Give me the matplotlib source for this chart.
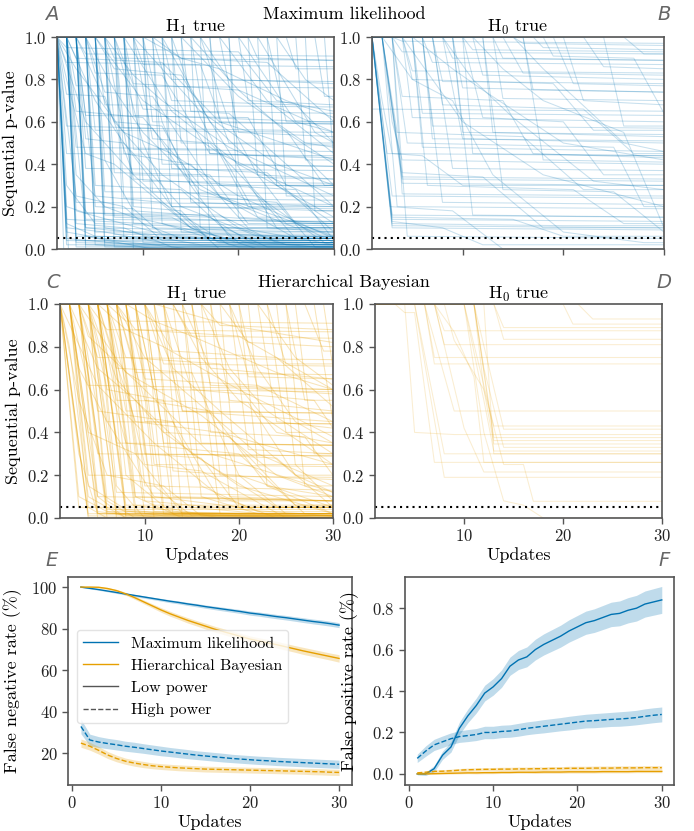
import matplotlib
matplotlib.use("Agg")
import matplotlib.pyplot as plt

plt.rcParams['font.family'] = ['cmr10', 'DejaVu Serif']
plt.rcParams['mathtext.fontset'] = 'cm'
plt.rcParams['axes.formatter.use_mathtext'] = True
plt.rcParams['axes.unicode_minus'] = False
plt.rcParams['font.size'] = 12
plt.rcParams['axes.labelsize'] = 13
plt.rcParams['axes.titlesize'] = 13
plt.rcParams['xtick.labelsize'] = 12
plt.rcParams['ytick.labelsize'] = 12

BLUE = '#0072B2'
ORANGE = '#E69F00'

# ---- sequential p-value traces: (update, p) knots, flat before/after ----
ml_h1_traces = [
    (1, 1, 2, 0.10, 6, 0.08, 12, 0.03), (1, 1, 2, 0.05, 9, 0.02), (1, 1, 1.7, 0.0),
    (1, 1, 2, 0.14, 10, 0.12, 14, 0.05), (1, 1, 2, 0.30, 5, 0.12, 20, 0.10, 25, 0.02),
    (1, 1, 2, 0.62, 3, 0.25, 8, 0.2, 12, 0.04), (1, 1, 2, 0.80, 4, 0.45, 7, 0.40, 15, 0.1),
    (1, 1, 2.2, 0.0), (1, 1, 2, 0.20, 4, 0.17, 18, 0.16, 24, 0.03),
    (2, 1, 3, 0.12, 8, 0.1, 13, 0.01), (2, 1, 3, 0.04), (2, 1, 3, 0.35, 6, 0.2, 9, 0.15, 22, 0.02),
    (2, 1, 3, 0.65, 10, 0.62, 16, 0.3, 26, 0.05), (2, 1, 4, 0.10, 30, 0.08),
    (3, 1, 4, 0.06, 11, 0.0), (3, 1, 4, 0.17, 17, 0.15, 21, 0.04), (3, 1, 5, 0.25, 12, 0.22, 19, 0.02),
    (3, 1, 4, 0.52, 8, 0.5, 13, 0.2, 30, 0.18), (4, 1, 5, 0.08), (4, 1, 5, 0.3, 14, 0.28, 20, 0.03),
    (4, 1, 6, 0.74, 11, 0.72, 18, 0.25, 30, 0.06), (5, 1, 6, 0.1, 16, 0.02),
    (5, 1, 6, 0.42, 9, 0.18, 28, 0.12), (5, 1, 7, 0.85, 14, 0.82, 24, 0.1),
    (6, 1, 7, 0.15, 24, 0.13), (6, 1, 7, 0.6, 12, 0.58, 16, 0.25, 24, 0.22, 28, 0.01),
    (6, 1, 9, 0.33, 21, 0.3, 26, 0.05), (7, 1, 8, 0.05), (7, 1, 8, 0.45, 15, 0.4, 21, 0.1),
    (7, 1, 10, 0.66, 19, 0.64, 30, 0.2), (8, 1, 9, 0.2, 14, 0.18, 17, 0.04),
    (8, 1, 9, 0.78, 20, 0.75, 30, 0.55), (9, 1, 10, 0.03), (9, 1, 11, 0.52, 17, 0.5, 25, 0.12),
    (10, 1, 11, 0.27, 22, 0.25, 29, 0.03), (10, 1, 14, 0.9, 23, 0.88, 30, 0.6),
    (11, 1, 12, 0.12, 20, 0.01), (11, 1, 13, 0.7, 26, 0.68, 30, 0.5),
    (12, 1, 13, 0.38, 23, 0.36, 30, 0.08), (13, 1, 14, 0.08, 25, 0.06), (13, 1, 16, 0.62, 29, 0.6),
    (14, 1, 15, 0.22, 30, 0.2), (15, 1, 17, 0.45, 27, 0.43, 30, 0.3), (16, 1, 17, 0.05),
    (16, 1, 19, 0.8, 30, 0.78), (17, 1, 18, 0.3, 26, 0.28, 30, 0.04), (18, 1, 20, 0.55, 30, 0.53),
    (19, 1, 20, 0.15, 30, 0.12), (20, 1, 21, 0.7, 30, 0.68), (21, 1, 22, 0.35, 30, 0.33),
    (22, 1, 23, 0.1, 30, 0.08), (23, 1, 25, 0.6), (24, 1, 25, 0.25), (25, 1, 26, 0.85),
    (26, 1, 27, 0.42), (27, 1, 28, 0.18), (28, 1, 29, 0.72), (29, 1, 30, 0.4),
    (3, 1, 7, 0.6, 12, 0.35, 20, 0.1, 30, 0.02), (5, 1, 10, 0.7, 18, 0.45, 30, 0.2),
    (8, 1, 13, 0.65, 20, 0.4, 30, 0.15), (12, 1, 17, 0.6, 24, 0.3, 30, 0.12),
    (15, 1, 20, 0.75, 25, 0.55, 30, 0.4), (18, 1, 23, 0.7, 30, 0.45),
    (2, 1, 5, 0.7, 8, 0.5, 14, 0.2, 22, 0.06), (4, 1, 7, 0.75, 10, 0.55, 16, 0.28, 26, 0.1),
    (6, 1, 9, 0.82, 12, 0.7, 19, 0.48, 30, 0.25), (9, 1, 12, 0.85, 16, 0.65, 24, 0.4, 30, 0.3),
    (14, 1, 17, 0.86, 20, 0.72, 27, 0.5, 30, 0.48), (20, 1, 23, 0.8, 26, 0.6, 30, 0.55),
    (1, 1, 4, 0.6, 9, 0.35, 15, 0.1, 22, 0.0), (1, 1, 3, 0.85, 8, 0.55, 13, 0.45, 20, 0.25, 30, 0.05),
    (7, 1, 10, 0.5, 13, 0.2, 18, 0.0), (10, 1, 12, 0.6, 15, 0.3, 19, 0.06),
    (16, 1, 19, 0.6, 22, 0.35, 26, 0.12, 30, 0.03),
    (22, 1, 28, 0.55, 30, 0.5), (11, 1, 14, 0.9, 18, 0.85, 25, 0.7, 30, 0.62), (24, 1, 27, 0.8, 30, 0.7),
    (2, 1, 3, 0.9, 12, 0.88, 18, 0.6, 30, 0.42), (1, 1, 2, 0.95, 20, 0.93, 24, 0.7, 30, 0.65),
    (1, 1, 2, 0.02), (2, 1, 3, 0.01), (3, 1, 4, 0.0), (4, 1, 5, 0.02, 14, 0.0),
    (5, 1, 6, 0.03, 20, 0.01), (6, 1, 7, 0.01), (8, 1, 9, 0.0), (1, 1, 2, 0.08, 7, 0.04, 15, 0.0),
    (2, 1, 3, 0.18, 12, 0.07, 28, 0.01), (3, 1, 4, 0.1, 20, 0.03),
    (1, 1, 2, 0.45, 30, 0.44), (1, 1, 2, 0.58, 11, 0.57, 15, 0.3), (1, 1, 2, 0.73, 6, 0.72, 9, 0.35, 30, 0.33),
    (1, 1, 2, 0.88, 16, 0.87, 19, 0.5), (2, 1, 3, 0.22, 30, 0.21), (2, 1, 3, 0.48, 18, 0.47, 22, 0.15),
    (2, 1, 3, 0.77, 30, 0.76), (2, 1, 3, 0.06, 30, 0.05), (3, 1, 4, 0.38, 30, 0.37),
    (3, 1, 4, 0.63, 21, 0.62, 25, 0.3), (3, 1, 4, 0.92, 30, 0.91), (3, 1, 4, 0.14, 30, 0.13),
    (4, 1, 5, 0.2, 9, 0.19, 12, 0.07), (4, 1, 5, 0.56, 30, 0.55), (4, 1, 5, 0.83, 12, 0.82, 17, 0.45, 30, 0.43),
    (5, 1, 6, 0.27, 30, 0.26), (5, 1, 6, 0.68, 30, 0.67), (5, 1, 6, 0.16, 13, 0.15, 18, 0.03),
    (6, 1, 7, 0.36, 17, 0.35, 21, 0.12), (6, 1, 7, 0.9, 30, 0.89), (6, 1, 7, 0.07, 30, 0.06),
    (7, 1, 8, 0.24, 30, 0.23), (7, 1, 8, 0.57, 25, 0.56, 29, 0.3), (8, 1, 9, 0.12, 30, 0.11),
    (8, 1, 9, 0.47, 30, 0.46), (8, 1, 9, 0.63, 16, 0.62, 21, 0.2), (9, 1, 10, 0.32, 30, 0.31),
    (9, 1, 10, 0.87, 30, 0.86), (10, 1, 11, 0.1, 19, 0.09, 23, 0.01), (10, 1, 11, 0.6, 30, 0.59),
    (11, 1, 12, 0.4, 30, 0.39), (12, 1, 13, 0.2, 30, 0.19), (12, 1, 13, 0.8, 30, 0.79),
    (13, 1, 14, 0.5, 30, 0.49), (14, 1, 15, 0.65, 30, 0.64), (15, 1, 16, 0.1, 30, 0.09),
    (17, 1, 18, 0.6, 30, 0.59), (19, 1, 20, 0.4, 30, 0.39), (21, 1, 22, 0.9, 30, 0.89),
    (23, 1, 24, 0.3, 30, 0.29), (1, 1, 2, 0.04, 30, 0.02), (2, 1, 3, 0.03, 30, 0.01),
    (3, 1, 4, 0.02, 30, 0.005), (4, 1, 5, 0.05, 30, 0.03), (5, 1, 6, 0.01, 30, 0.0),
    (1, 1, 2, 0.12, 5, 0.06, 30, 0.04),
]

ml_h0_traces = [
    (1, 1, 3, 0.13, 8, 0.1, 12, 0.02), (1, 1, 3, 0.12, 20, 0.11), (1, 1, 2.8, 0.2, 9, 0.18, 14, 0.0),
    (1, 1, 2, 0.7, 3, 0.45, 6, 0.44, 10, 0.3), (1, 0.66, 30, 0.65), (2, 1, 4, 0.33, 30, 0.32),
    (2, 1, 4, 0.36, 12, 0.34, 18, 0.1), (2, 1, 3, 0.6, 4, 0.42, 30, 0.4),
    (2, 1, 3.5, 0.55, 16, 0.53, 22, 0.28), (3, 1, 4, 0.26, 30, 0.25),
    (3, 1, 4.5, 0.5, 25, 0.48, 28, 0.2), (3, 1, 4, 0.72, 14, 0.7, 17, 0.45, 30, 0.43),
    (4, 1, 5, 0.62, 30, 0.6), (4, 1, 5, 0.8, 19, 0.78, 23, 0.56), (5, 1, 6, 0.48, 30, 0.46),
    (5, 1, 6.5, 0.3, 21, 0.28, 26, 0.12), (6, 1, 7, 0.58, 30, 0.57), (6, 1, 8, 0.22, 30, 0.21),
    (6, 1, 7, 0.88, 30, 0.87), (7, 1, 8, 0.68, 22, 0.66, 27, 0.45), (7, 1, 9, 0.38, 30, 0.37),
    (8, 1, 9, 0.9, 30, 0.89), (8, 1, 10, 0.52, 30, 0.5), (9, 1, 10, 0.76, 30, 0.74),
    (9, 1, 11, 0.16, 30, 0.15), (10, 1, 11, 0.94, 30, 0.93), (10, 1, 12, 0.62, 20, 0.6, 24, 0.35),
    (11, 1, 12, 0.82, 30, 0.8), (12, 1, 13, 0.55, 30, 0.53), (12, 1, 14, 0.28, 25, 0.27, 30, 0.08),
    (13, 1, 14, 0.71, 30, 0.7), (14, 1, 16, 0.83, 30, 0.82), (15, 1, 16, 0.97, 30, 0.96),
    (16, 1, 18, 0.42, 30, 0.41), (18, 1, 19, 0.91, 27, 0.9, 30, 0.64), (20, 1, 22, 0.7, 30, 0.68),
    (22, 1, 24, 0.86, 30, 0.85), (24, 1, 26, 0.58), (26, 1, 28, 0.92),
    (2, 1, 5, 0.8, 9, 0.7, 13, 0.35, 20, 0.08, 28, 0.03), (4, 1, 7, 0.8, 10, 0.6, 18, 0.35, 30, 0.2),
    (5, 1, 9, 0.85, 12, 0.75, 20, 0.5, 30, 0.42), (8, 1, 11, 0.8, 15, 0.62, 23, 0.32, 30, 0.28),
    (11, 1, 14, 0.85, 18, 0.7, 26, 0.55, 30, 0.1), (15, 1, 18, 0.85, 21, 0.72, 26, 0.5, 30, 0.46),
    (1, 1, 3, 0.14, 30, 0.13), (1, 1, 3, 0.15, 15, 0.14, 20, 0.06), (3, 1, 4, 0.98, 30, 0.97),
    (17, 1, 18, 0.95, 30, 0.94), (19, 1, 21, 0.78, 30, 0.77), (1, 1, 3, 0.1, 30, 0.09),
    (2, 1, 4, 0.31, 30, 0.3),
    (1, 1, 3, 0.11, 30, 0.1), (1, 1, 3, 0.16, 30, 0.15), (2, 1, 4, 0.34, 30, 0.33),
    (1, 1, 2.5, 0.45, 30, 0.44), (3, 1, 4, 0.93, 30, 0.92), (4, 1, 5, 0.84, 30, 0.83),
    (5, 1, 6, 0.64, 30, 0.63), (6, 1, 7, 0.52, 30, 0.51), (7, 1, 8, 0.79, 30, 0.78),
    (9, 1, 10, 0.55, 30, 0.54), (10, 1, 11, 0.45, 30, 0.44), (13, 1, 14, 0.9, 30, 0.89),
    (16, 1, 17, 0.75, 30, 0.74), (2, 1, 3.5, 0.2, 30, 0.19), (3, 1, 4.5, 0.06, 30, 0.05),
    (1, 1, 3, 0.25, 30, 0.24),
]

hb_h1_traces = [
    (1, 1, 4, 0.0), (1, 1, 3, 0.3, 5, 0.02), (1, 1, 2, 0.8, 4, 0.1, 8, 0.0),
    (1, 1, 3, 0.55, 6, 0.2, 12, 0.15, 16, 0.01), (2, 1, 4, 0.05, 6, 0.0), (2, 1, 5, 0.0),
    (2, 1, 4, 0.4, 9, 0.3, 14, 0.02), (2, 1, 3, 0.7, 6, 0.45, 11, 0.1, 20, 0.05),
    (3, 1, 5, 0.1, 8, 0.0), (3, 1, 6, 0.0), (3, 1, 5, 0.5, 13, 0.45, 18, 0.08),
    (3, 1, 4, 0.85, 10, 0.6, 17, 0.3, 30, 0.12), (4, 1, 6, 0.08, 9, 0.0), (4, 1, 7, 0.0),
    (4, 1, 6, 0.6, 12, 0.55, 16, 0.15, 22, 0.03), (4, 1, 8, 0.35, 20, 0.3, 27, 0.02),
    (5, 1, 7, 0.15, 10, 0.0), (5, 1, 8, 0.01), (5, 1, 7, 0.7, 15, 0.68, 20, 0.2, 30, 0.05),
    (5, 1, 9, 0.45, 18, 0.4, 30, 0.25), (6, 1, 8, 0.2, 13, 0.02), (6, 1, 8, 0.0),
    (6, 1, 8, 0.75, 18, 0.72, 24, 0.4, 30, 0.35), (6, 1, 10, 0.25, 16, 0.22, 25, 0.0),
    (7, 1, 9, 0.1, 14, 0.0), (7, 1, 10, 0.55, 17, 0.5, 23, 0.15, 30, 0.1),
    (7, 1, 9, 0.88, 20, 0.85, 30, 0.6), (8, 1, 10, 0.3, 16, 0.28, 20, 0.05), (8, 1, 11, 0.0),
    (8, 1, 10, 0.65, 22, 0.62, 30, 0.45), (9, 1, 11, 0.15, 15, 0.01),
    (9, 1, 12, 0.4, 19, 0.38, 26, 0.06), (10, 1, 12, 0.05, 18, 0.0),
    (10, 1, 13, 0.78, 24, 0.75, 30, 0.52), (11, 1, 13, 0.22, 20, 0.2, 25, 0.02),
    (11, 1, 14, 0.5, 30, 0.45), (12, 1, 14, 0.0), (12, 1, 15, 0.6, 28, 0.55, 30, 0.42),
    (13, 1, 15, 0.3, 24, 0.28, 30, 0.05), (14, 1, 16, 0.1, 22, 0.02), (14, 1, 17, 0.7, 30, 0.65),
    (15, 1, 17, 0.4, 27, 0.38, 30, 0.2), (16, 1, 18, 0.2, 30, 0.18), (17, 1, 19, 0.55, 30, 0.5),
    (18, 1, 20, 0.05), (18, 1, 21, 0.82, 30, 0.8), (19, 1, 21, 0.32, 30, 0.3),
    (20, 1, 22, 0.6, 30, 0.58), (21, 1, 23, 0.15, 30, 0.02), (22, 1, 24, 0.45, 30, 0.42),
    (23, 1, 25, 0.72), (24, 1, 26, 0.25, 30, 0.08), (25, 1, 27, 0.55), (26, 1, 28, 0.3),
    (27, 1, 29, 0.78), (28, 1, 30, 0.45), (29, 1, 30, 0.7),
    (2, 1, 5, 0.7, 9, 0.55, 15, 0.3, 24, 0.05), (4, 1, 7, 0.65, 12, 0.4, 20, 0.15, 30, 0.02),
    (7, 1, 10, 0.75, 14, 0.6, 22, 0.3, 30, 0.15), (10, 1, 13, 0.7, 18, 0.5, 26, 0.2, 30, 0.12),
    (13, 1, 16, 0.75, 20, 0.55, 30, 0.25), (16, 1, 19, 0.7, 23, 0.5, 30, 0.3),
    (19, 1, 22, 0.7, 26, 0.45, 30, 0.35),
    (1, 1, 5, 0.62, 11, 0.35, 18, 0.1, 24, 0.0), (3, 1, 8, 0.68, 16, 0.48, 24, 0.2, 30, 0.1),
    (5, 1, 8, 0.88, 12, 0.8, 20, 0.6, 30, 0.38), (8, 1, 11, 0.92, 15, 0.85, 24, 0.68, 30, 0.6),
    (11, 1, 19, 0.9, 30, 0.82), (22, 1, 26, 0.75, 30, 0.62),
    (1, 1, 3, 0.1, 6, 0.03, 12, 0.0), (2, 1, 4, 0.15, 8, 0.04, 16, 0.0), (3, 1, 5, 0.03, 9, 0.01),
    (4, 1, 6, 0.02), (5, 1, 7, 0.04, 12, 0.01), (6, 1, 9, 0.06, 15, 0.02, 25, 0.0),
    (7, 1, 10, 0.08, 20, 0.04, 30, 0.01), (9, 1, 12, 0.02), (12, 1, 15, 0.05, 25, 0.01),
    (15, 1, 18, 0.02, 30, 0.0),
    (1, 1, 3, 0.05), (1, 1, 4, 0.02), (2, 1, 4, 0.2, 30, 0.19), (2, 1, 4, 0.62, 30, 0.6),
    (2, 1, 5, 0.1, 30, 0.08), (3, 1, 5, 0.3, 30, 0.29), (3, 1, 5, 0.75, 30, 0.74), (3, 1, 6, 0.04),
    (4, 1, 6, 0.45, 30, 0.44), (4, 1, 6, 0.88, 30, 0.87), (4, 1, 7, 0.12, 30, 0.1),
    (5, 1, 7, 0.35, 30, 0.34), (5, 1, 7, 0.55, 21, 0.54, 26, 0.2), (5, 1, 8, 0.06),
    (6, 1, 8, 0.5, 30, 0.49), (6, 1, 8, 0.92, 30, 0.91), (6, 1, 9, 0.1, 30, 0.08),
    (7, 1, 9, 0.3, 30, 0.29), (7, 1, 9, 0.68, 30, 0.67), (7, 1, 10, 0.02), (8, 1, 10, 0.45, 30, 0.44),
    (8, 1, 10, 0.15, 30, 0.13), (9, 1, 11, 0.6, 30, 0.59), (9, 1, 11, 0.25, 30, 0.24),
    (10, 1, 12, 0.35, 30, 0.34), (10, 1, 12, 0.72, 30, 0.71), (11, 1, 13, 0.1, 30, 0.08),
    (12, 1, 14, 0.5, 30, 0.49), (13, 1, 15, 0.85, 30, 0.84), (14, 1, 16, 0.35, 30, 0.34),
    (15, 1, 17, 0.62, 30, 0.6), (16, 1, 18, 0.9, 30, 0.88), (17, 1, 19, 0.1, 30, 0.08),
    (19, 1, 21, 0.66, 30, 0.65), (20, 1, 22, 0.25), (23, 1, 25, 0.4), (25, 1, 27, 0.15),
    (1, 1, 4, 0.01, 30, 0.0), (2, 1, 5, 0.02, 30, 0.01), (3, 1, 6, 0.03, 30, 0.02),
    (4, 1, 7, 0.015, 30, 0.0), (5, 1, 8, 0.03, 30, 0.01), (6, 1, 9, 0.02, 30, 0.0),
    (8, 1, 11, 0.03, 30, 0.01), (10, 1, 13, 0.02, 30, 0.0),
]

hb_h0_traces = [
    (5, 1, 8, 0.19), (4, 1, 5, 0.4, 9, 0.39), (6, 1, 7, 0.75), (6, 1, 7, 0.72), (7, 1, 8, 0.81),
    (7, 1, 8, 0.875), (5, 1, 8, 0.3), (6, 1, 9, 0.5), (7, 1, 9, 0.87, 11, 0.66, 12, 0.26),
    (7, 1, 10, 0.42, 12, 0.215), (8, 1, 9, 0.83, 12, 0.6, 13, 0.346), (10, 1, 13, 0.43),
    (10, 1, 12, 0.55, 13, 0.313), (11, 1, 14, 0.415), (11, 1, 13, 0.362),
    (11, 1, 12, 0.7, 14, 0.33), (11, 1, 13, 0.376), (11, 1, 12, 0.6, 14, 0.25, 16, 0.25, 17, 0.078),
    (10, 1, 12, 0.4, 14, 0.08, 16, 0.06, 18, 0.0), (13, 1, 14, 0.835), (13, 1, 14, 0.89),
    (20, 1, 21, 0.906), (21.5, 1, 23, 0.93), (12, 1, 13, 0.3), (3, 1, 4, 0.96, 5, 0.96, 7, 0.26),
]

# ---- error rates (%) per update ----
updates = list(range(1, 31))
fn_ml_low = [100, 99.4, 98.8, 98.1, 97.4, 96.7, 96.0, 95.3, 94.6, 93.9, 93.2, 92.6, 91.9, 91.3, 90.6,
             90.0, 89.4, 88.8, 88.2, 87.5, 87.0, 86.4, 85.8, 85.3, 84.7, 84.1, 83.5, 83.0, 82.4, 81.7]
fn_hb_low = [100, 100, 99.9, 99.3, 98.3, 96.8, 95.0, 93.0, 91.0, 89.0, 87.2, 85.6, 84.0, 82.6, 81.2,
             79.8, 78.6, 77.4, 76.2, 75.0, 74.1, 73.2, 72.3, 71.3, 70.3, 69.3, 68.4, 67.5, 66.6, 65.7]
fn_ml_high = [33.0, 26.5, 25.5, 24.8, 24.2, 23.5, 23.0, 22.4, 21.8, 21.2, 20.7, 20.2, 19.7, 19.2, 18.8,
              18.4, 18.0, 17.6, 17.3, 17.0, 16.7, 16.5, 16.2, 16.0, 15.8, 15.6, 15.4, 15.2, 15.0, 14.8]
fn_hb_high = [25.0, 23.5, 21.5, 19.3, 17.6, 16.3, 15.4, 14.7, 14.1, 13.7, 13.4, 13.1, 12.9, 12.7, 12.5,
              12.4, 12.3, 12.2, 12.1, 12.0, 11.9, 11.8, 11.7, 11.6, 11.5, 11.4, 11.3, 11.2, 11.0, 10.9]
fn_ml_low_ci = [0.2, 0.3, 0.35, 0.4, 0.45, 0.5, 0.55, 0.6, 0.6, 0.65, 0.7, 0.7, 0.75, 0.8, 0.8,
                0.85, 0.9, 0.9, 0.95, 1.0, 1.0, 1.05, 1.05, 1.1, 1.1, 1.15, 1.15, 1.2, 1.2, 1.2]
fn_hb_low_ci = [0.2, 0.3, 0.4, 0.5, 0.6, 0.7, 0.8, 0.9, 1.0, 1.1, 1.2, 1.2, 1.3, 1.3, 1.4,
                1.4, 1.4, 1.5, 1.5, 1.5, 1.5, 1.6, 1.6, 1.6, 1.6, 1.7, 1.7, 1.7, 1.7, 1.8]
fn_ml_high_ci = [3.5, 2.8, 2.6, 2.5, 2.5, 2.4, 2.4, 2.3, 2.3, 2.3, 2.2, 2.2, 2.2, 2.1, 2.1,
                 2.1, 2.1, 2.0, 2.0, 2.0, 2.0, 2.0, 2.0, 2.0, 2.0, 2.0, 2.0, 2.0, 2.0, 2.0]
fn_hb_high_ci = [2.0, 1.9, 1.8, 1.7, 1.6, 1.5, 1.5, 1.5, 1.4, 1.4, 1.4, 1.4, 1.4, 1.4, 1.4,
                 1.4, 1.4, 1.4, 1.4, 1.4, 1.4, 1.4, 1.4, 1.4, 1.4, 1.4, 1.5, 1.5, 1.5, 1.5]

fp_ml_low = [0.0, 0.0, 0.025, 0.09, 0.13, 0.22, 0.28, 0.33, 0.39, 0.42, 0.46, 0.52, 0.55, 0.565, 0.6,
             0.625, 0.645, 0.665, 0.69, 0.71, 0.73, 0.74, 0.755, 0.77, 0.775, 0.79, 0.80, 0.82, 0.83, 0.84]
fp_ml_high = [0.075, 0.11, 0.14, 0.155, 0.17, 0.18, 0.185, 0.19, 0.2, 0.2, 0.205, 0.207, 0.213, 0.22, 0.225,
              0.23, 0.235, 0.24, 0.245, 0.25, 0.255, 0.257, 0.26, 0.263, 0.265, 0.268, 0.272, 0.278, 0.283, 0.287]
fp_hb_low = [0.0, 0.0, 0.001, 0.002, 0.003, 0.004, 0.005, 0.005, 0.006, 0.006, 0.007, 0.007, 0.008, 0.008, 0.008,
             0.009, 0.009, 0.009, 0.010, 0.010, 0.010, 0.010, 0.011, 0.011, 0.011, 0.011, 0.012, 0.012, 0.012, 0.012]
fp_hb_high = [0.005, 0.008, 0.012, 0.013, 0.015, 0.018, 0.02, 0.021, 0.022, 0.022, 0.023, 0.023, 0.024, 0.024, 0.025,
              0.025, 0.026, 0.026, 0.027, 0.027, 0.027, 0.028, 0.028, 0.028, 0.029, 0.029, 0.029, 0.03, 0.03, 0.03]
fp_ml_low_ci = [0.005, 0.008, 0.015, 0.02, 0.025, 0.03, 0.033, 0.036, 0.038, 0.04, 0.042, 0.044, 0.046, 0.048, 0.05,
                0.051, 0.052, 0.053, 0.054, 0.055, 0.056, 0.057, 0.058, 0.059, 0.06, 0.061, 0.062, 0.063, 0.064, 0.065]
fp_ml_high_ci = [0.02, 0.025, 0.027, 0.028, 0.028, 0.028, 0.029, 0.029, 0.03, 0.03, 0.03, 0.03, 0.031, 0.031, 0.031,
                 0.032, 0.032, 0.032, 0.033, 0.033, 0.033, 0.034, 0.034, 0.034, 0.035, 0.035, 0.035, 0.036, 0.036, 0.036]
fp_hb_low_ci = [0.002, 0.002, 0.003, 0.003, 0.004, 0.004, 0.004, 0.005, 0.005, 0.005, 0.005, 0.005, 0.005, 0.005, 0.006,
                0.006, 0.006, 0.006, 0.006, 0.006, 0.006, 0.006, 0.006, 0.006, 0.006, 0.006, 0.006, 0.006, 0.006, 0.006]
fp_hb_high_ci = [0.005, 0.006, 0.007, 0.007, 0.008, 0.008, 0.008, 0.008, 0.008, 0.009, 0.009, 0.009, 0.009, 0.009, 0.009,
                 0.009, 0.009, 0.009, 0.01, 0.01, 0.01, 0.01, 0.01, 0.01, 0.01, 0.01, 0.01, 0.01, 0.01, 0.01]


def trace_xy(knots):
    xs = list(knots[0::2])
    ys = list(knots[1::2])
    if xs[0] > 1:
        xs = [1] + xs
        ys = [1.0] + ys
    if xs[-1] < 30:
        xs = xs + [30]
        ys = ys + [ys[-1]]
    return xs, ys


def style(ax):
    for s in ax.spines.values():
        s.set_color('#555555')
        s.set_linewidth(1.2)
    ax.tick_params(colors='#555555', labelcolor='#222222', length=4, width=1)


W, H = 694, 831
fig = plt.figure(figsize=(W / 100, H / 100), dpi=100)


def add_ax(x0, x1, y0, y1):
    return fig.add_axes([x0 / W, 1 - y1 / H, (x1 - x0) / W, (y1 - y0) / H])


axA = add_ax(57, 334, 37, 249)
axB = add_ax(372, 664, 37, 249)
axC = add_ax(60, 333, 304, 518)
axD = add_ax(375, 662, 304, 518)
axE = add_ax(68, 352, 577, 785)
axF = add_ax(405, 674, 577, 785)

panels = [(axA, ml_h1_traces, BLUE, 0.26, r'$\mathrm{H}_1$ true'),
          (axB, ml_h0_traces, BLUE, 0.22, r'$\mathrm{H}_0$ true'),
          (axC, hb_h1_traces, ORANGE, 0.28, r'$\mathrm{H}_1$ true'),
          (axD, hb_h0_traces, ORANGE, 0.18, r'$\mathrm{H}_0$ true')]
for ax, traces, col, a, ttl in panels:
    for tr in traces:
        xs, ys = trace_xy(tr)
        ax.plot(xs, ys, color=col, alpha=a, lw=0.75)
    ax.axhline(0.05, color='k', ls=(0, (1, 2)), lw=1.5)
    ax.set_xlim(1, 30)
    ax.set_ylim(0, 1)
    ax.set_xticks([10, 20, 30])
    ax.set_yticks([0, 0.2, 0.4, 0.6, 0.8, 1.0])
    ax.set_title(ttl, pad=3)
    style(ax)

for ax in (axA, axB):
    ax.set_xticklabels([])
for ax in (axC, axD):
    ax.set_xlabel('Updates', labelpad=2)
axA.set_ylabel('Sequential p-value')
axC.set_ylabel('Sequential p-value')

# E: false negative rate
for m, ci, col, ls in [(fn_ml_low, fn_ml_low_ci, BLUE, '-'), (fn_hb_low, fn_hb_low_ci, ORANGE, '-'),
                       (fn_ml_high, fn_ml_high_ci, BLUE, '--'), (fn_hb_high, fn_hb_high_ci, ORANGE, '--')]:
    axE.fill_between(updates, [v - c for v, c in zip(m, ci)], [v + c for v, c in zip(m, ci)],
                     color=col, alpha=0.25, lw=0)
    axE.plot(updates, m, color=col, ls=ls, lw=1.0)
axE.set_ylabel('False negative rate (%)')
axE.yaxis.set_label_coords(-0.162, 0.5)
axE.set_xlabel('Updates', labelpad=2)
axE.set_xticks([0, 10, 20, 30])
axE.set_yticks([20, 40, 60, 80, 100])
style(axE)

h = [plt.Line2D([], [], color=BLUE, lw=1.0), plt.Line2D([], [], color=ORANGE, lw=1.0),
     plt.Line2D([], [], color='#555555', lw=1.0), plt.Line2D([], [], color='#555555', lw=1.0, ls='--')]
axE.legend(h, ['Maximum likelihood', 'Hierarchical Bayesian', 'Low power', 'High power'],
           loc='upper left', bbox_to_anchor=(0.03, 0.745), borderaxespad=0, fontsize=11.5,
           framealpha=0.8, edgecolor='#dddddd', handlelength=2.2)

# F: false positive rate
for m, ci, col, ls in [(fp_ml_low, fp_ml_low_ci, BLUE, '-'), (fp_ml_high, fp_ml_high_ci, BLUE, '--'),
                       (fp_hb_low, fp_hb_low_ci, ORANGE, '-'), (fp_hb_high, fp_hb_high_ci, ORANGE, '--')]:
    axF.fill_between(updates, [v - c for v, c in zip(m, ci)], [v + c for v, c in zip(m, ci)],
                     color=col, alpha=0.25, lw=0)
    axF.plot(updates, m, color=col, ls=ls, lw=1.0)
axF.set_ylabel('False positive rate (%)')
axF.yaxis.set_label_coords(-0.17, 0.5)
axF.set_xlabel('Updates', labelpad=2)
axF.set_xticks([0, 10, 20, 30])
axF.set_yticks([0, 0.2, 0.4, 0.6, 0.8])
style(axF)

# row titles and panel letters
fig.text(344 / W, 1 - 14 / H, 'Maximum likelihood', ha='center', va='center', fontsize=13)
fig.text(344 / W, 1 - 282 / H, 'Hierarchical Bayesian', ha='center', va='center', fontsize=13)
for letter, x, y in [('A', 52, 14), ('B', 664, 14), ('C', 53, 282), ('D', 664, 282),
                     ('E', 52, 561), ('F', 664, 561)]:
    fig.text(x / W, 1 - y / H, letter, ha='center', va='center', fontsize=14,
             family='DejaVu Sans', style='italic', color='#666666')

fig.savefig('out.png', dpi=100)
